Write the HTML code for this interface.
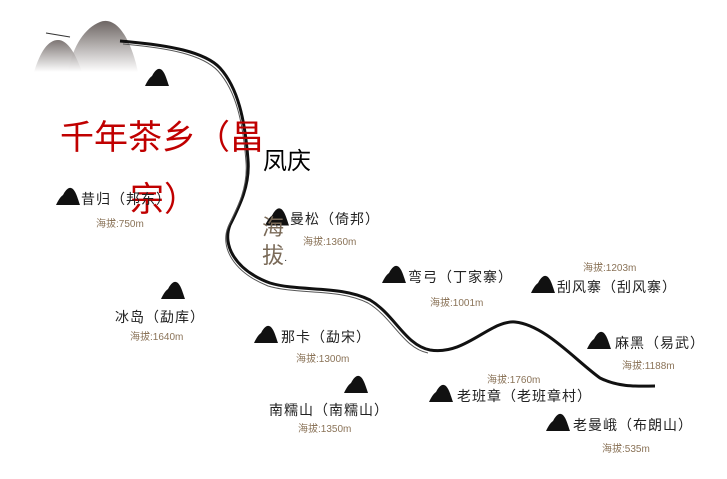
<!DOCTYPE html>
<html><head><meta charset="utf-8"><style>
body{margin:0;width:727px;height:479px;background:#fff;position:relative;overflow:hidden;font-family:"Liberation Sans","Noto Sans CJK SC",sans-serif}
.t{position:absolute;white-space:nowrap}
.n{font-size:14px;color:#222;letter-spacing:1px}
.a{font-size:10px;color:#8a7358}
</style></head><body>
<svg width="727" height="479" style="position:absolute;left:0;top:0">
<defs>
<linearGradient id="g" x1="0" y1="0" x2="0" y2="1"><stop offset="0" stop-color="#6e6664"/><stop offset="1" stop-color="#fff"/></linearGradient>
<symbol id="m" viewBox="0 0 24 18"><path d="M0 18 C2 14 4 10 7 8 C9 4 12 0 15 1 C19 2 21 9 24 18Z" fill="#111"/></symbol>
</defs>
<path d="M68 72 C73 45 85 28 100 22 C115 16 130 35 138 72Z" fill="url(#g)"/>
<path d="M34 72 C40 52 48 40 58 40 C68 40 76 55 82 72Z" fill="url(#g)" opacity="0.9"/>
<path d="M46 33 L70 37" stroke="#333" stroke-width="1"/>
<path d="M120 41 C170 45 205 52 220 68 C238 88 245 120 248 160 C250 185 240 205 230 225 C222 245 235 270 270 283 C300 292 340 285 370 300 C395 315 405 345 430 350 C465 356 490 320 515 322 C545 325 575 360 600 378 C620 388 640 386 655 386" fill="none" stroke="#111" stroke-width="3"/>
<path d="M123 44 C170 48 203 55 218 71 C236 91 243 122 246 162 C248 187 238 207 228 227 C220 247 233 272 268 286 C298 295 338 288 368 303 C393 318 403 348 428 353" fill="none" stroke="#555" stroke-width="1"/>
<use href="#m" x="145" y="67" width="24" height="20"/>
<use href="#m" x="56" y="186" width="24" height="20"/>
<use href="#m" x="265" y="207" width="24" height="19"/>
<use href="#m" x="382" y="264" width="24" height="20"/>
<use href="#m" x="531" y="274" width="24" height="20"/>
<use href="#m" x="161" y="280" width="24" height="20"/>
<use href="#m" x="254" y="324" width="24" height="20"/>
<use href="#m" x="587" y="330" width="24" height="20"/>
<use href="#m" x="344" y="374" width="24" height="20"/>
<use href="#m" x="429" y="383" width="24" height="20"/>
<use href="#m" x="546" y="412" width="24" height="20"/>
</svg>
<div class="t" style="left:60px;top:110px;font-size:34px;color:#c00000">千年茶乡（昌</div>
<div class="t" style="left:130px;top:172px;font-size:34px;color:#c00000">宗）</div>
<div class="t" style="left:263px;top:141px;font-size:24px;color:#000">凤庆</div>
<div class="t" style="left:262px;top:214px;font-size:22px;color:#7a6a58;line-height:28px">海<br>拔<span style="font-size:10px;color:#222">·</span></div>
<div class="t n" style="left:81px;top:189px">昔归（邦东）</div>
<div class="t a" style="left:96px;top:215px">海拔:750m</div>
<div class="t n" style="left:290px;top:209px">曼松（倚邦）</div>
<div class="t a" style="left:303px;top:233px">海拔:1360m</div>
<div class="t n" style="left:408px;top:267px">弯弓（丁家寨）</div>
<div class="t a" style="left:430px;top:294px">海拔:1001m</div>
<div class="t a" style="left:583px;top:259px">海拔:1203m</div>
<div class="t n" style="left:557px;top:277px">刮风寨（刮风寨）</div>
<div class="t n" style="left:115px;top:307px">冰岛（勐库）</div>
<div class="t a" style="left:130px;top:328px">海拔:1640m</div>
<div class="t n" style="left:281px;top:327px">那卡（勐宋）</div>
<div class="t a" style="left:296px;top:350px">海拔:1300m</div>
<div class="t n" style="left:615px;top:333px">麻黑（易武）</div>
<div class="t a" style="left:622px;top:357px">海拔:1188m</div>
<div class="t a" style="left:487px;top:371px">海拔:1760m</div>
<div class="t n" style="left:457px;top:386px">老班章（老班章村）</div>
<div class="t n" style="left:269px;top:400px">南糯山（南糯山）</div>
<div class="t a" style="left:298px;top:420px">海拔:1350m</div>
<div class="t n" style="left:573px;top:415px">老曼峨（布朗山）</div>
<div class="t a" style="left:602px;top:440px">海拔:535m</div>
</body></html>
